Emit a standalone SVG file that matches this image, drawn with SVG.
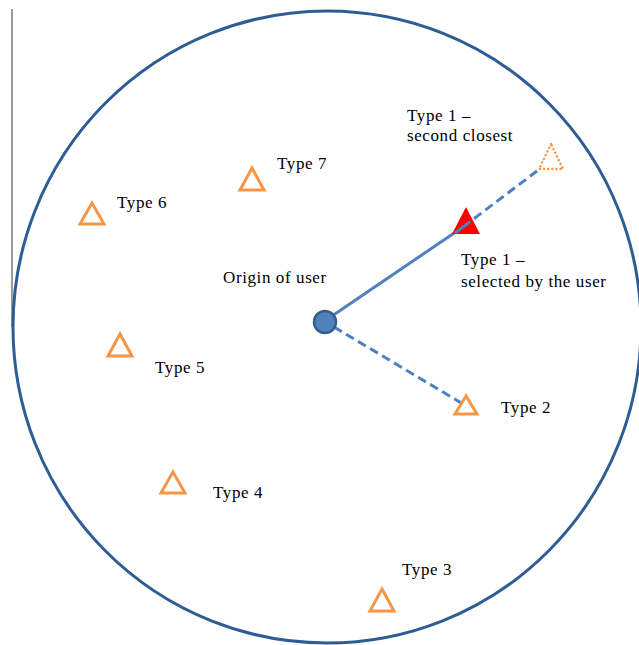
<svg xmlns="http://www.w3.org/2000/svg" width="639" height="645" viewBox="0 0 639 645">
<style>
  text { font-family: "Liberation Serif", "Times New Roman", serif; font-size: 17px; letter-spacing: 0.6px; fill: #000; }
  .tri { fill: none; stroke: #F79646; stroke-width: 3; stroke-linejoin: miter; }
  .link { stroke: #4F81BD; stroke-width: 3; fill: none; }
  .dash { stroke-dasharray: 9 5; }
</style>
<rect width="639" height="645" fill="#fff"/>
<line x1="12" y1="9" x2="12" y2="327" stroke="#7a7a7a" stroke-width="1.5"/>
<ellipse id="range" cx="327" cy="327" rx="314" ry="316" fill="none" stroke="#2E5D95" stroke-width="3"/>
<g id="connectors">
  <line class="link" x1="332" y1="316" x2="463" y2="227"/>
  <line class="link dash" x1="463" y1="227" x2="537" y2="171"/>
  <line class="link dash" x1="334" y1="327" x2="463" y2="404"/>
</g>
<g id="user">
  <circle cx="325" cy="322" r="11" fill="#4F81BD" stroke="#385D8A" stroke-width="2.5"/>
  <text x="223" y="283">Origin of user</text>
</g>
<g id="type1-selected">
  <polygon points="466,207 452,234 480,234" fill="#FF0000"/>
  <line class="link" x1="455" y1="233" x2="463" y2="227"/>
  <line class="link dash" x1="463" y1="227" x2="475" y2="218"/>
  <text x="461" y="265">Type 1 –</text>
  <text x="461" y="287">selected by the user</text>
</g>
<g id="type1-second">
  <polygon points="551,144 539,169 563,169" fill="none" stroke="#F79646" stroke-width="2.5" stroke-dasharray="0.1 4" stroke-linecap="round"/>
  <text x="407" y="121">Type 1 –</text>
  <text x="407" y="141">second closest</text>
</g>
<g id="type2">
  <polygon class="tri" points="466,396 455,414 477,414"/>
  <text x="501" y="413">Type 2</text>
</g>
<g id="type3">
  <polygon class="tri" points="382,589 370,611 394,611"/>
  <text x="402" y="575">Type 3</text>
</g>
<g id="type4">
  <polygon class="tri" points="173,472 161,493 185,493"/>
  <text x="213" y="498">Type 4</text>
</g>
<g id="type5">
  <polygon class="tri" points="120,334 108,356 132,356"/>
  <text x="155" y="373">Type 5</text>
</g>
<g id="type6">
  <polygon class="tri" points="92,203 80,224 104,224"/>
  <text x="117" y="208">Type 6</text>
</g>
<g id="type7">
  <polygon class="tri" points="252,168 240,190 264,190"/>
  <text x="277" y="169">Type 7</text>
</g>
</svg>
